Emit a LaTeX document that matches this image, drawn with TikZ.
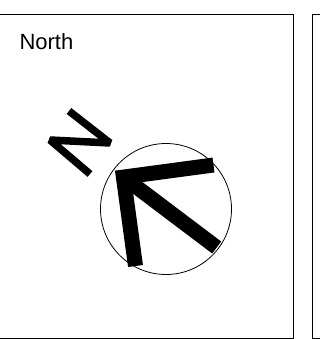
\documentclass[tikz,border=0pt]{standalone}
\usepackage{fontspec}
\setmainfont{Liberation Sans}
\usetikzlibrary{positioning}

\begin{document}
\begin{tikzpicture}[x=1pt,y=-1pt]
  \useasboundingbox (0,0) rectangle (320,339);
  \clip (0,0) rectangle (320,339);
  \draw[line width=1pt] (-5,14.5) rectangle (293,338.5);
  \draw[line width=1pt] (312,14.5) rectangle (330,338.5);
  \node[anchor=base west,inner sep=0pt,font=\fontsize{22}{26}\selectfont] (title) at (19.3,50) {North};
  \node[draw,circle,minimum size=131pt,inner sep=0pt,line width=0.8pt] (dial) at (166,209) {};
  \coordinate (tip) at (123.4,177.1);
  \draw[line width=15pt] (tip) -- (216.7,247.5);
  \draw[line width=15pt,line join=miter] (213.5,165) -- (tip) -- (135.5,266);
  \draw[line width=7.5pt,line join=bevel] (69,111) -- (110,143) -- (50,140) -- (90,174);
\end{tikzpicture}
\end{document}
